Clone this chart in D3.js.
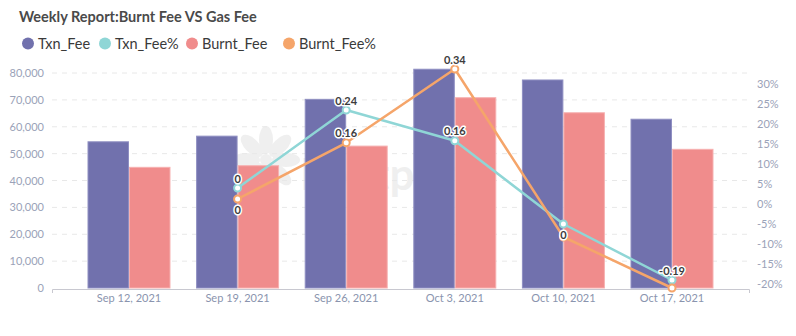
<!DOCTYPE html>
<html>
<head>
<meta charset="utf-8">
<script src="https://cdn.jsdelivr.net/npm/d3@7"></script>
<style>
  html, body { margin: 0; padding: 0; background: #fff; }
  svg { display: block; font-family: Lato, "Open Sans", sans-serif; }
</style>
</head>
<body>
<svg id="chart" width="796" height="336"></svg>
<script>
// Weekly fee figures
const weeks = ["Sep 12, 2021", "Sep 19, 2021", "Sep 26, 2021", "Oct 3, 2021", "Oct 10, 2021", "Oct 17, 2021"];
const txnFee = [54400, 56500, 70200, 81400, 77400, 62800];
const burntFee = [44900, 45500, 52800, 70800, 65200, 51600];
// Week-over-week change (null where there is no previous week)
const txnFeePct = [null, 0.04, 0.235, 0.158, -0.05, -0.19];
const burntFeePct = [null, 0.0125, 0.153, 0.3375, -0.0825, -0.21];
// Point labels as published
const txnFeePctLabels = [null, "0", "0.24", "0.16", "0", "-0.19"];
const burntFeePctLabels = [null, "0", "0.16", "0.34", null, null];
const leftTicks = [0, 10000, 20000, 30000, 40000, 50000, 60000, 70000, 80000];
const rightTicks = [-0.2, -0.15, -0.1, -0.05, 0, 0.05, 0.1, 0.15, 0.2, 0.25, 0.3];
const seriesNames = ["Txn_Fee", "Txn_Fee%", "Burnt_Fee", "Burnt_Fee%"];

const colors = {
  txn: "#7171ad",
  txnPct: "#8fd6d6",
  burnt: "#f08c8c",
  burntPct: "#f5a56a"
};

const svg = d3.select("#chart");
const plot = { left: 52, right: 750, top: 73, bottom: 288 };

const locale = d3.formatLocale({ decimal: ".", thousands: ",", grouping: [3], currency: ["$", ""], minus: "-" });
const fmtNum = locale.format(",");
const fmtPct = locale.format(".0%");

const x = d3.scaleBand().domain(weeks).range([74.7, 726.3]).paddingInner(0.245).paddingOuter(0.1225);
const sub = d3.scaleBand().domain(["txn", "burnt"]).range([0, x.bandwidth()]).paddingInner(0.025);
const yL = d3.scaleLinear().domain([0, 80000]).range([plot.bottom, plot.top]);
const yR = d3.scaleLinear().domain([-0.21, 0.34]).range([plot.bottom, 68]);
const cx = d => x(d) + x.bandwidth() / 2;

// Title
svg.append("text")
  .attr("x", 19).attr("y", 22)
  .attr("font-size", 14.5).attr("font-weight", 700).attr("fill", "#4a4a4a")
  .text("Weekly Report:Burnt Fee VS Gas Fee");

// Legend
const legendColors = [colors.txn, colors.txnPct, colors.burnt, colors.burntPct];
const legendX = [28, 105, 192, 289];
const legend = svg.append("g");
seriesNames.forEach((name, i) => {
  const g = legend.append("g").attr("transform", `translate(${legendX[i]},43.5)`);
  g.append("circle").attr("r", 6).attr("fill", legendColors[i]);
  g.append("text").attr("x", 10).attr("y", 5.5)
    .attr("font-size", 14.5).attr("fill", "#3a3a3a").text(name);
});

// Watermark
const wm = svg.append("g").attr("opacity", 0.06).attr("fill", "#000");
d3.range(8).forEach(i => {
  wm.append("ellipse")
    .attr("cx", 0).attr("cy", -20).attr("rx", 7).attr("ry", 14)
    .attr("transform", `translate(266,160) rotate(${i * 45})`);
});
wm.append("circle").attr("cx", 266).attr("cy", 160).attr("r", 6);
wm.append("text").attr("x", 300).attr("y", 190)
  .attr("font-size", 44).attr("font-weight", 700).text("Footprint");

// Grid lines
svg.append("g").selectAll("line").data(leftTicks.filter(t => t > 0)).join("line")
  .attr("x1", plot.left).attr("x2", plot.right)
  .attr("y1", d => yL(d)).attr("y2", d => yL(d))
  .attr("stroke", "#e8e8e8").attr("stroke-dasharray", "5,5");

// Left axis labels
svg.append("g").selectAll("text").data(leftTicks).join("text")
  .attr("x", 44).attr("y", d => yL(d) + 4)
  .attr("text-anchor", "end").attr("font-size", 11).attr("fill", "#9aa2b8")
  .text(d => fmtNum(d));

// Right axis labels
svg.append("g").selectAll("text").data(rightTicks).join("text")
  .attr("x", 757).attr("y", d => yR(d) + 4)
  .attr("text-anchor", "start").attr("font-size", 11).attr("fill", "#9aa2b8")
  .text(d => fmtPct(d));

// Bars
const bars = svg.append("g");
weeks.forEach((w, i) => {
  bars.append("rect")
    .attr("x", x(w) + sub("txn")).attr("width", sub.bandwidth())
    .attr("y", yL(txnFee[i])).attr("height", yL(0) - yL(txnFee[i]))
    .attr("fill", colors.txn).attr("stroke", "#8f8fc2").attr("stroke-width", 1);
  bars.append("rect")
    .attr("x", x(w) + sub("burnt")).attr("width", sub.bandwidth())
    .attr("y", yL(burntFee[i])).attr("height", yL(0) - yL(burntFee[i]))
    .attr("fill", colors.burnt).attr("stroke", "#f6b0b0").attr("stroke-width", 1);
});

// X axis
const xAxisScale = d3.scaleLinear().domain([0, 1]).range([plot.left, plot.right]);
svg.append("path")
  .attr("d", `M${xAxisScale(0) + 0.5},${plot.bottom + 5}V${plot.bottom + 1.5}H${xAxisScale(1) - 0.5}V${plot.bottom + 5}`)
  .attr("fill", "none").attr("stroke", "#c8c8d0").attr("stroke-width", 1);
svg.append("g").selectAll("text").data(weeks).join("text")
  .attr("x", d => cx(d)).attr("y", 302)
  .attr("text-anchor", "middle").attr("font-size", 11).attr("fill", "#8a94ae")
  .text(d => d);

// Lines
function drawLine(values, labels, color, placement) {
  const pts = weeks.map((w, i) => ({ w, v: values[i], label: labels[i], pos: placement[i] }))
    .filter(p => p.v !== null);
  const line = d3.line().x(p => cx(p.w)).y(p => yR(p.v));
  svg.append("path").datum(pts).attr("d", line)
    .attr("fill", "none").attr("stroke", color).attr("stroke-width", 2.5)
    .attr("stroke-linejoin", "round");
  svg.append("g").selectAll("circle").data(pts).join("circle")
    .attr("cx", p => cx(p.w)).attr("cy", p => yR(p.v)).attr("r", 3.5)
    .attr("fill", "#fff").attr("stroke", color).attr("stroke-width", 2);
  return pts;
}
const txnPts = drawLine(txnFeePct, txnFeePctLabels, colors.txnPct, [null, "top", "top", "top", "bottom", "top"]);
const burntPts = drawLine(burntFeePct, burntFeePctLabels, colors.burntPct, [null, "bottom", "top", "top", "top", "top"]);

// Point labels on top of everything
const labelPts = txnPts.concat(burntPts).filter(p => p.label !== null);
svg.append("g").selectAll("text").data(labelPts).join("text")
  .attr("x", p => cx(p.w))
  .attr("y", p => yR(p.v) + (p.pos === "top" ? -5.5 : 15))
  .attr("text-anchor", "middle").attr("font-size", 11).attr("font-weight", 700)
  .attr("fill", "#3c3c3c").attr("stroke", "#fff").attr("stroke-width", 3)
  .attr("paint-order", "stroke").attr("stroke-linejoin", "round")
  .text(p => p.label);
</script>
</body>
</html>
